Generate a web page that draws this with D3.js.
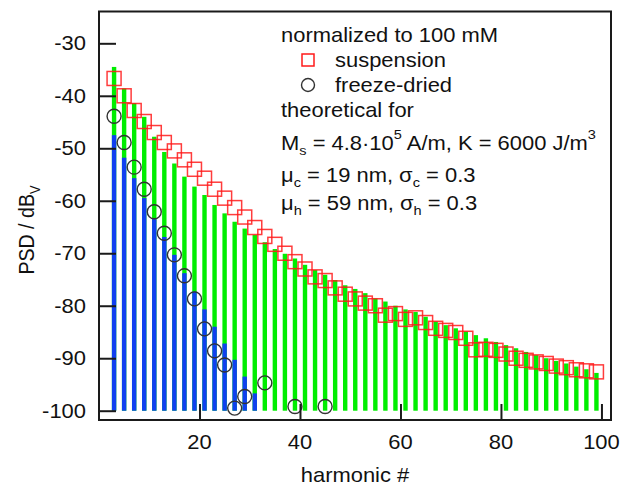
<!DOCTYPE html>
<html><head><meta charset="utf-8">
<script src="https://cdn.jsdelivr.net/npm/d3@7"></script>
<style>body{margin:0;background:#fff}svg{display:block}text{font-family:"Liberation Sans",Arial,sans-serif;fill:#111}</style>
</head><body><svg id="c" width="622" height="487"></svg>
<script>
const harmonics = [3,5,7,9,11,13,15,17,19,21,23,25,27,29,31,33,35,37,39,41,43,45,47,49,51,53,55,57,59,61,63,65,67,69,71,73,75,77,79,81,83,85,87,89,91,93,95,97,99];
const theoryTotal = [-34.5,-38.6,-41.4,-44.0,-47.8,-50.7,-52.9,-55.4,-57.3,-58.9,-60.8,-62.4,-64.0,-65.3,-66.5,-67.9,-69.2,-70.1,-71.0,-72.2,-73.2,-74.1,-75.1,-76.1,-76.8,-77.6,-78.6,-79.2,-80.0,-80.7,-81.2,-82.1,-83.0,-83.7,-84.3,-84.9,-85.6,-86.2,-86.9,-87.5,-88.1,-88.8,-89.4,-90.0,-90.5,-91.0,-91.6,-92.1,-92.8];
const coreHarmonics = [3,5,7,9,11,13,15,17,19,21,23,25,27,29,31];
const theoryCore = [-47.5,-51.8,-55.7,-59.5,-63.5,-66.9,-70.3,-73.8,-77.3,-80.7,-84.0,-87.2,-90.3,-93.5,-96.7];
const suspension = [-36.7,-40.0,-42.8,-44.9,-47.0,-48.9,-50.5,-52.2,-54.0,-55.7,-57.8,-59.5,-61.3,-63.1,-65.1,-66.8,-68.3,-70.0,-71.6,-73.0,-74.5,-75.2,-76.6,-77.8,-78.7,-79.5,-80.0,-81.8,-81.5,-82.6,-82.3,-83.2,-84.3,-84.7,-85.1,-86.2,-88.4,-88.3,-88.5,-89.2,-90.0,-90.4,-90.7,-91.0,-91.5,-91.8,-92.2,-92.4,-92.6];
const fdHarmonics = [3,5,7,9,11,13,15,17,19,21,23,25,27,29,33,39,45];
const freezeDried = [-43.9,-48.9,-53.6,-57.8,-62.1,-66.2,-70.3,-74.3,-78.7,-84.4,-88.6,-91.3,-99.5,-97.3,-94.7,-99.2,-99.2];
const xTicks = [20,40,60,80,100];
const yTicks = [-30,-40,-50,-60,-70,-80,-90,-100];
const baseLevel = -100;

const svg = d3.select("#c");
const L = 99, R = 611, T = 11.5, B = 420;
const x = d3.scaleLinear().domain([0, 101.9]).range([L, R]);
const y = d3.scaleLinear().domain([-101.77, -23.94]).range([B, T]);
const SX = 1.12, FS = 19.6;
const bw = 4.4;

// green bars (total theoretical)
svg.append("g").selectAll("rect").data(harmonics).join("rect")
  .attr("x", (h) => x(h) - bw/2).attr("width", bw)
  .attr("y", (h,i) => y(theoryTotal[i])).attr("height", (h,i) => y(baseLevel) - y(theoryTotal[i]))
  .attr("fill", "#00ee00");
// blue bars (core theoretical)
svg.append("g").selectAll("rect").data(coreHarmonics).join("rect")
  .attr("x", (h) => x(h) - bw/2).attr("width", bw)
  .attr("y", (h,i) => y(theoryCore[i])).attr("height", (h,i) => y(baseLevel) - y(theoryCore[i]))
  .attr("fill", "#1040f0");
// suspension squares
const sq = 14;
svg.append("g").selectAll("rect").data(harmonics).join("rect")
  .attr("x", (h) => x(h) - sq/2).attr("y", (h,i) => y(suspension[i]) - sq/2)
  .attr("width", sq).attr("height", sq)
  .attr("fill", "none").attr("stroke", "#ff1a1a").attr("stroke-width", 1.5).attr("stroke-opacity", 0.85);
// freeze-dried circles
svg.append("g").selectAll("circle").data(fdHarmonics).join("circle")
  .attr("cx", (h) => x(h)).attr("cy", (h,i) => y(freezeDried[i])).attr("r", 7)
  .attr("fill", "none").attr("stroke", "#333").attr("stroke-width", 1.4);

// frame
svg.append("rect").attr("x", L).attr("y", T).attr("width", R - L).attr("height", B - T)
  .attr("fill", "none").attr("stroke", "#1a1a1a").attr("stroke-width", 2);

// axes ticks (inward)
const xAxis = d3.axisBottom(x).tickValues(xTicks).tickSize(-16).tickPadding(0).tickFormat("");
const gx = svg.append("g").attr("transform", `translate(0,${B})`).call(xAxis);
gx.select(".domain").remove();
gx.selectAll("line").attr("stroke", "#1a1a1a").attr("stroke-width", 2);
const yAxis = d3.axisLeft(y).tickValues(yTicks).tickSize(-17).tickFormat("");
const gy = svg.append("g").attr("transform", `translate(${L},0)`).call(yAxis);
gy.select(".domain").remove();
gy.selectAll("line").attr("stroke", "#1a1a1a").attr("stroke-width", 2);

function stext(px, py, anchor) {
  return svg.append("text").attr("transform", `translate(${px},${py}) scale(${SX},1)`)
    .attr("text-anchor", anchor || "start").attr("font-size", FS);
}
yTicks.forEach(v => stext(86, y(v) + 7, "end").text(d3.format("d")(v).replace("−","-")));
xTicks.forEach(v => stext(x(v), 449, "middle").text(v));
stext((L + R) / 2, 482, "middle").text("harmonic #");

// y label
const yl = svg.append("text").attr("transform", `translate(34,230) scale(${SX},1) rotate(-90)`)
  .attr("text-anchor", "middle").attr("font-size", FS);
yl.append("tspan").text("PSD / dB");
yl.append("tspan").attr("font-size", 13).attr("dy", 5).text("V");

// legend
const lx = 281;
stext(lx, 42).text("normalized to 100 mM");
svg.append("rect").attr("x", 302).attr("y", 54).attr("width", 12).attr("height", 12)
  .attr("fill", "none").attr("stroke", "#ff1a1a").attr("stroke-width", 1.5);
stext(335, 67).text("suspension");
svg.append("circle").attr("cx", 308).attr("cy", 85).attr("r", 6.5)
  .attr("fill", "none").attr("stroke", "#333").attr("stroke-width", 1.4);
stext(335, 92).text("freeze-dried");
stext(lx, 117).text("theoretical for");
const t1 = stext(lx, 150);
t1.append("tspan").text("M");
t1.append("tspan").attr("font-size", 13).attr("dy", 5).text("s");
t1.append("tspan").attr("dy", -5).text(" = 4.8\u00b710");
t1.append("tspan").attr("font-size", 13).attr("dy", -11).text("5");
t1.append("tspan").attr("dy", 11).text(" A/m, K = 6000 J/m");
t1.append("tspan").attr("font-size", 13).attr("dy", -11).text("3");
const t2 = stext(lx, 182);
t2.append("tspan").text("\u03bc");
t2.append("tspan").attr("font-size", 13).attr("dy", 5).text("c");
t2.append("tspan").attr("dy", -5).text(" = 19 nm, \u03c3");
t2.append("tspan").attr("font-size", 13).attr("dy", 5).text("c");
t2.append("tspan").attr("dy", -5).text(" = 0.3");
const t3 = stext(lx, 210);
t3.append("tspan").text("\u03bc");
t3.append("tspan").attr("font-size", 13).attr("dy", 5).text("h");
t3.append("tspan").attr("dy", -5).text(" = 59 nm, \u03c3");
t3.append("tspan").attr("font-size", 13).attr("dy", 5).text("h");
t3.append("tspan").attr("dy", -5).text(" = 0.3");
</script></body></html>
